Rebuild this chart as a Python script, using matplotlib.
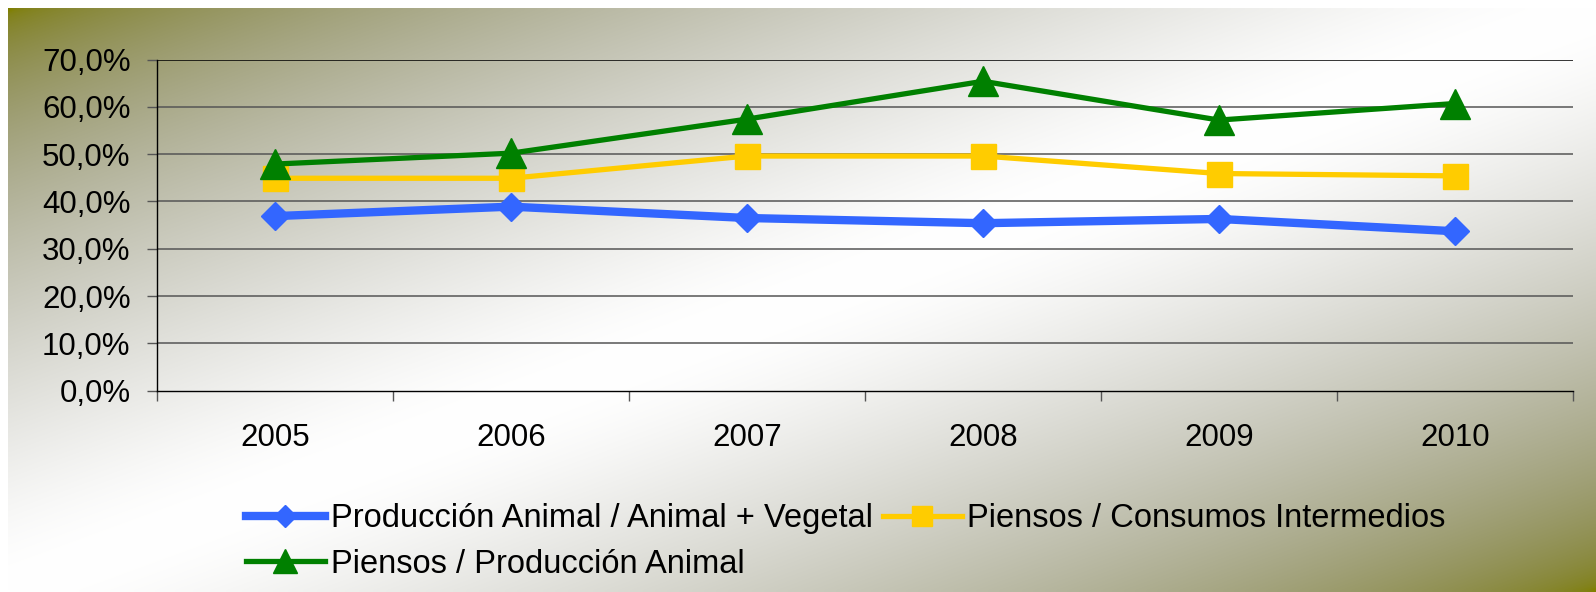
import numpy as np
import matplotlib
matplotlib.use("Agg")
import matplotlib.pyplot as plt
from matplotlib.ticker import FuncFormatter, FixedLocator

plt.rcParams['font.family'] = ['Liberation Sans', 'DejaVu Sans']

years = ["2005", "2006", "2007", "2008", "2009", "2010"]
prod_animal_vegetal = [36.9, 38.9, 36.5, 35.4, 36.3, 33.7]
piensos_consumos = [44.9, 44.9, 49.6, 49.6, 45.9, 45.4]
piensos_prod_animal = [47.9, 50.2, 57.4, 65.4, 57.2, 60.7]
labels = ["Producción Animal / Animal + Vegetal",
          "Piensos / Consumos Intermedios",
          "Piensos / Producción Animal"]
yticks = [0, 10, 20, 30, 40, 50, 60, 70]

W, H = 1596, 592
fig = plt.figure(figsize=(W / 100, H / 100), dpi=100, facecolor='white')

# gradient background (olive corners -> white diagonal band)
bg = fig.add_axes([8 / W, 0, 1 - 8 / W, 1 - 8 / H], zorder=0)
nx, ny = 400, 150
u = np.linspace(0, 1, nx)[None, :]
v = np.linspace(0, 1, ny)[:, None]
t = (u + v) / 2
d = np.abs(2 * t - 1)
eps = 0.12
ds = np.sqrt(d ** 2 + eps ** 2) - eps
ds = ds / ds.max()
f = np.clip(1 - ds, 0, 1)
r = (128 + 127 * f ** 0.9) / 255
g = r
b = f ** 0.5
img = np.dstack([r, g, b])
bg.imshow(img, aspect='auto', extent=[0, 1, 0, 1], interpolation='bilinear')
bg.axis('off')

ax = fig.add_axes([157 / W, 1 - 390.7 / H, (1573 - 157) / W, (390.7 - 59.5) / H], zorder=1)
ax.patch.set_alpha(0)

x = np.arange(len(years))
l1, = ax.plot(x, prod_animal_vegetal, color='#3366FF', lw=6, marker='D', ms=14,
              mec='#3366FF', solid_joinstyle='round', zorder=3)
l2, = ax.plot(x, piensos_consumos, color='#FFCC00', lw=3.8, marker='s', ms=18,
              mec='#FFCC00', zorder=4)
l3, = ax.plot(x, piensos_prod_animal, color='#008000', lw=3.8, marker='^', ms=21,
              mec='#008000', zorder=5)

ax.set_xlim(-0.5, len(years) - 0.5)
ax.set_ylim(0, 70)
ax.xaxis.set_major_locator(FixedLocator(np.arange(len(years) + 1) - 0.5))
ax.xaxis.set_minor_locator(FixedLocator(x))
ax.xaxis.set_major_formatter(FuncFormatter(lambda v, p: ''))
ax.xaxis.set_minor_formatter(FuncFormatter(lambda v, p: years[int(round(v))]))
ax.tick_params(axis='x', which='major', length=7, width=1, color='#555555', direction='out')
ax.tick_params(axis='x', which='minor', length=0, pad=23, labelsize=22.5)
ax.set_yticks(yticks)
ax.yaxis.set_major_formatter(FuncFormatter(lambda v, p: f"{v:.1f}%".replace('.', ',')))
ax.tick_params(axis='y', length=7, width=1, color='#555555', pad=12, labelsize=22.5)

for yv in yticks[1:]:
    ax.axhline(yv, color='black' if yv == 70 else '#555555', lw=1.1, zorder=1)

for s in ['top', 'right']:
    ax.spines[s].set_visible(False)
ax.spines['left'].set_color('black')
ax.spines['bottom'].set_color('black')
ax.spines['left'].set_linewidth(1)
ax.spines['bottom'].set_linewidth(1)

leg = fig.legend([l1, l3, l2], [labels[0], labels[2], labels[1]], ncol=2,
                 loc='upper left', bbox_to_anchor=(246 / W, 1 - 503 / H),
                 frameon=False, fontsize=23.5, numpoints=1, handlelength=2.42,
                 handletextpad=0.18, columnspacing=0.3, labelspacing=0.45,
                 borderpad=0, borderaxespad=0, markerscale=0.8)

fig.savefig('out.png', dpi=100, facecolor='white')
